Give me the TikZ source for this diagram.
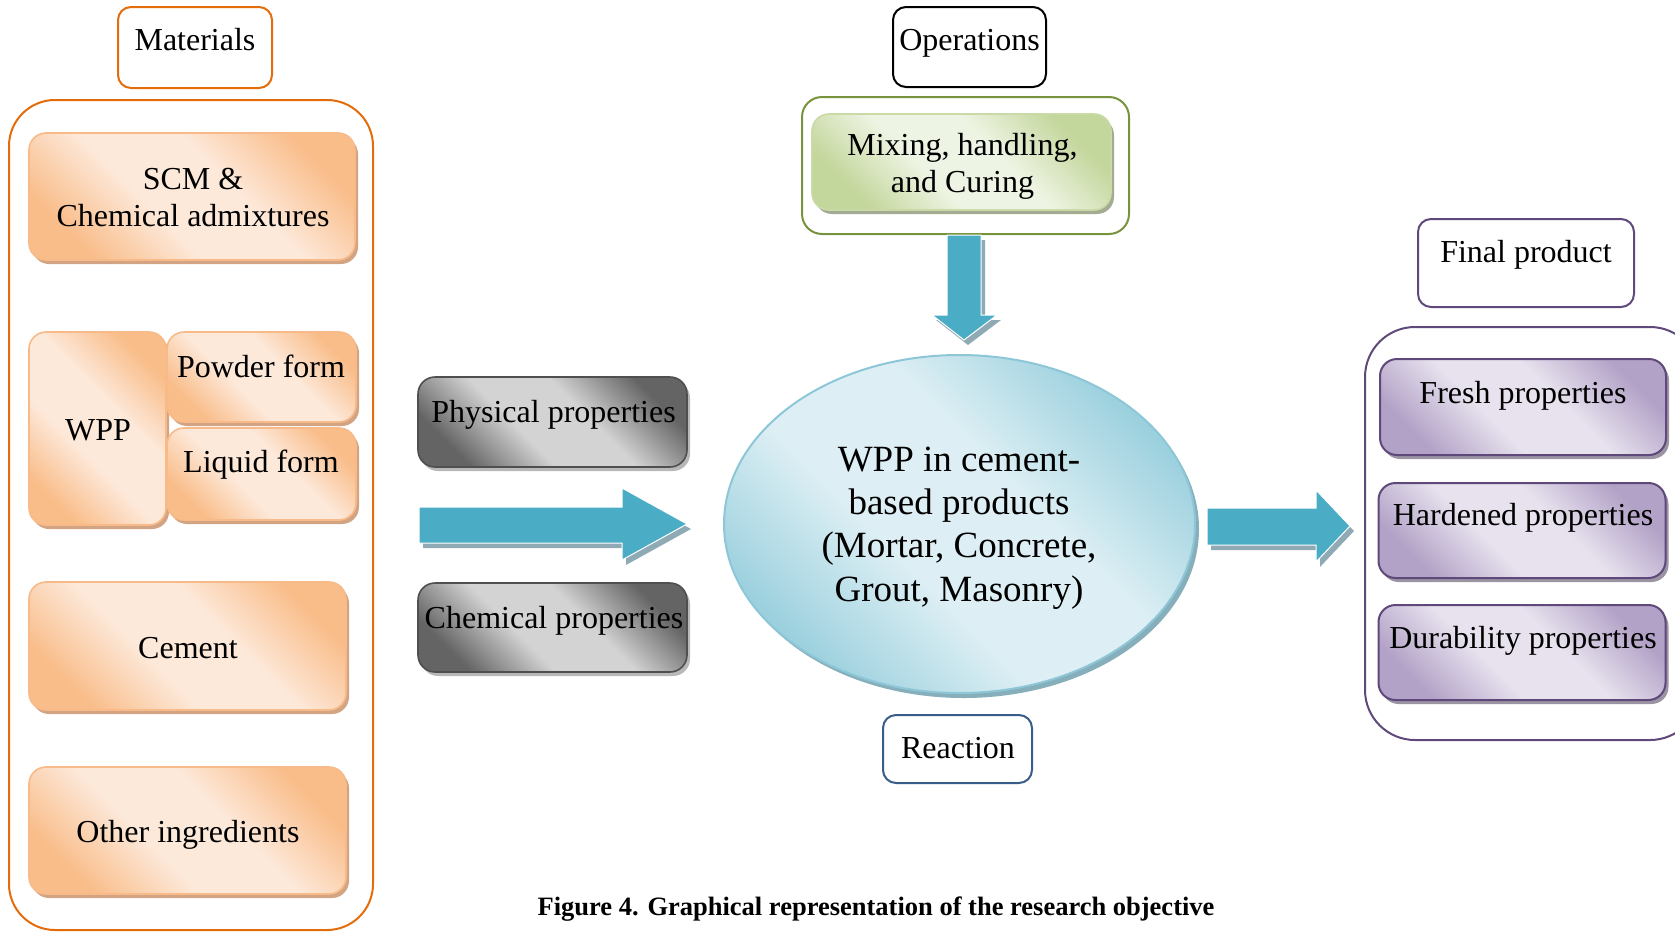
\documentclass[tikz,border=0pt]{standalone}
\usepackage{fontspec}
\setmainfont{Liberation Serif}
\usetikzlibrary{shapes.geometric,shadows}

% palette
\definecolor{matline}{HTML}{E46C0A}
\definecolor{peachD}{HTML}{F9BD8A}
\definecolor{peachL}{HTML}{FDE9DA}
\definecolor{peachB}{HTML}{F7BA88}
\definecolor{peachS}{HTML}{D2A483}
\definecolor{grayD}{HTML}{646464}
\definecolor{grayL}{HTML}{D3D3D3}
\definecolor{grayB}{HTML}{4F4F4F}
\definecolor{grayS}{HTML}{B8B8B8}
\definecolor{arrowblue}{HTML}{4BACC6}
\definecolor{arrowshadow}{HTML}{8FAAB4}
\definecolor{greenline}{HTML}{77933C}
\definecolor{greenD}{HTML}{C3D69B}
\definecolor{greenL}{HTML}{EEF4E3}
\definecolor{greenB}{HTML}{C9DAA6}
\definecolor{greenS}{HTML}{A3AC92}
\definecolor{blueD}{HTML}{9BD0DE}
\definecolor{blueL}{HTML}{DDEFF4}
\definecolor{blueB}{HTML}{8DC7D7}
\definecolor{blueS}{HTML}{86AEBB}
\definecolor{purpleline}{HTML}{5F497A}
\definecolor{purpleD}{HTML}{B3A2C7}
\definecolor{purpleL}{HTML}{E7E2EE}
\definecolor{purpleS}{HTML}{9B95A3}
\definecolor{reactline}{HTML}{385D8A}

% diagonal dark-light-dark fills
\pgfdeclarehorizontalshading{peachshade}{100bp}{color(0bp)=(peachD); color(25bp)=(peachD); color(42bp)=(peachL); color(58bp)=(peachL); color(75bp)=(peachD); color(100bp)=(peachD)}
\pgfdeclarehorizontalshading{grayshade}{100bp}{color(0bp)=(grayD); color(25bp)=(grayD); color(42bp)=(grayL); color(58bp)=(grayL); color(75bp)=(grayD); color(100bp)=(grayD)}
\pgfdeclarehorizontalshading{greenshade}{100bp}{color(0bp)=(greenD); color(25bp)=(greenD); color(42bp)=(greenL); color(58bp)=(greenL); color(75bp)=(greenD); color(100bp)=(greenD)}
\pgfdeclarehorizontalshading{blueshade}{100bp}{color(0bp)=(blueD); color(25bp)=(blueD); color(42bp)=(blueL); color(58bp)=(blueL); color(75bp)=(blueD); color(100bp)=(blueD)}
\pgfdeclarehorizontalshading{purpleshade}{100bp}{color(0bp)=(purpleD); color(25bp)=(purpleD); color(42bp)=(purpleL); color(58bp)=(purpleL); color(75bp)=(purpleD); color(100bp)=(purpleD)}

\tikzset{
  txt/.style={font=\fontsize{32}{37}\selectfont, inner sep=0pt, align=center},
  bigtxt/.style={font=\fontsize{37}{43.3}\selectfont, inner sep=0pt, align=center},
  tagbox/.style={draw=#1, line width=2pt, rounded corners=13pt, fill=white, inner sep=0pt},
  frame/.style={draw=#1, line width=2pt, inner sep=0pt},
  softbox/.style={line width=1.6pt, rounded corners=17pt, inner sep=0pt, shading angle=45},
  peachbox/.style={softbox, shading=peachshade, draw=peachB,
    general shadow={fill=peachS, shadow xshift=3pt, shadow yshift=-4pt}},
  graybox/.style={softbox, shading=grayshade, draw=grayB,
    general shadow={fill=grayS, shadow xshift=3pt, shadow yshift=-4pt}},
  greenbox/.style={softbox, shading=greenshade, draw=greenB,
    general shadow={fill=greenS, shadow xshift=3pt, shadow yshift=-4pt}},
  purplebox/.style={softbox, shading=purpleshade, draw=purpleline, line width=2pt,
    general shadow={fill=purpleS, shadow xshift=3pt, shadow yshift=-4pt}},
  blockarrow/.style={fill=arrowblue, draw=white, line width=1pt,
    general shadow={fill=arrowshadow, draw=none, shadow xshift=4pt, shadow yshift=-5pt}},
}

\begin{document}
\begin{tikzpicture}[x=1pt, y=-1pt]
\useasboundingbox (0,0) rectangle (1675,932);
\clip (0,0) rectangle (1675,932);

% ---------- materials column ----------
\node[frame=matline, rounded corners=46pt, minimum width=364pt, minimum height=830pt] (matframe) at (191,515) {};
\node[tagbox=matline, minimum width=154pt, minimum height=81pt] (mattag) at (195,47.5) {};
\node[txt, anchor=base] (mattag-t) at (195,50) {Materials};

\node[peachbox, minimum width=326pt, minimum height=127pt] (scm) at (192,196.5) {};
\node[txt] (scm-t) at (193,198) {SCM \&\\Chemical admixtures};

\node[peachbox, minimum width=137pt, minimum height=193pt] (wpp) at (97.5,428.5) {};
\node[txt, anchor=base] (wpp-t) at (98,440) {WPP};
\node[peachbox, minimum width=189pt, minimum height=90pt] (powder) at (261.5,377) {};
\node[txt, anchor=base] (powder-t) at (261,377) {Powder form};
\node[peachbox, minimum width=189pt, minimum height=92pt] (liquid) at (261.5,474) {};
\node[txt, anchor=base] (liquid-t) at (261,472) {Liquid form};

\node[peachbox, minimum width=317pt, minimum height=128pt] (cement) at (187.5,646) {};
\node[txt, anchor=base] (cement-t) at (188,658) {Cement};
\node[peachbox, minimum width=317pt, minimum height=127pt] (other) at (187.5,830.5) {};
\node[txt, anchor=base] (other-t) at (188,842) {Other ingredients};

% ---------- properties and input arrow ----------
\node[graybox, minimum width=269pt, minimum height=90pt] (phys) at (552.5,422) {};
\node[txt, anchor=base] (phys-t) at (553.5,422) {Physical properties};
\node[graybox, minimum width=269pt, minimum height=89pt] (chem) at (552.5,627.5) {};
\node[txt, anchor=base] (chem-t) at (554,628) {Chemical properties};

\path[blockarrow] (419,507) -- (622,507) -- (622,488) -- (687,524) -- (622,560) -- (622,543) -- (419,543) -- cycle;

% ---------- operations ----------
\node[tagbox=black, minimum width=153pt, minimum height=80pt] (optag) at (969.5,47) {};
\node[txt, anchor=base] (optag-t) at (969.5,50) {Operations};
\node[frame=greenline, rounded corners=20pt, minimum width=327pt, minimum height=137pt] (opframe) at (965.5,165.5) {};
\node[greenbox, minimum width=299pt, minimum height=96pt] (mix) at (961.5,162) {};
\node[txt] (mix-t) at (962.5,166) {Mixing, handling,\\and Curing};

\path[blockarrow] (947,235) -- (981,235) -- (981,315) -- (997,315) -- (964,340) -- (932,315) -- (947,315) -- cycle;

% ---------- central product ----------
\node[ellipse, shading=blueshade, shading angle=45, draw=blueB, line width=2pt,
  general shadow={fill=blueS, shadow xshift=4pt, shadow yshift=-5pt},
  minimum width=471pt, minimum height=338pt, inner sep=0pt] (core) at (959.5,524) {};
\node[bigtxt] (core-t) at (959,528) {WPP in cement-\\based products\\(Mortar, Concrete,\\Grout, Masonry)};

\node[tagbox=reactline, minimum width=149pt, minimum height=68pt] (react) at (957.5,749) {};
\node[txt, anchor=base] (react-t) at (958,758) {Reaction};

\path[blockarrow] (1207,508) -- (1316,508) -- (1316,490) -- (1350,526) -- (1316,562) -- (1316,545) -- (1207,545) -- cycle;

% ---------- final product ----------
\node[tagbox=purpleline, minimum width=216pt, minimum height=88pt] (fptag) at (1526,263) {};
\node[txt, anchor=base] (fptag-t) at (1526,262) {Final product};
\node[frame=purpleline, rounded corners=50pt, minimum width=335pt, minimum height=413pt] (fpframe) at (1532.5,533.5) {};

\node[purplebox, minimum width=286pt, minimum height=96pt] (fresh) at (1523,407) {};
\node[txt, anchor=base] (fresh-t) at (1523,403) {Fresh properties};
\node[purplebox, minimum width=287pt, minimum height=95pt] (hard) at (1522,530.5) {};
\node[txt, anchor=base] (hard-t) at (1523,525) {Hardened properties};
\node[purplebox, minimum width=287pt, minimum height=95pt] (dur) at (1522,652.5) {};
\node[txt, anchor=base] (dur-t) at (1523,648) {Durability properties};

% ---------- caption ----------
\node[font=\bfseries\fontsize{26.5}{30}\selectfont, inner sep=0pt, anchor=base] (caption) at (876,915)
  {Figure 4. Graphical representation of the research objective};
\end{tikzpicture}
\end{document}
